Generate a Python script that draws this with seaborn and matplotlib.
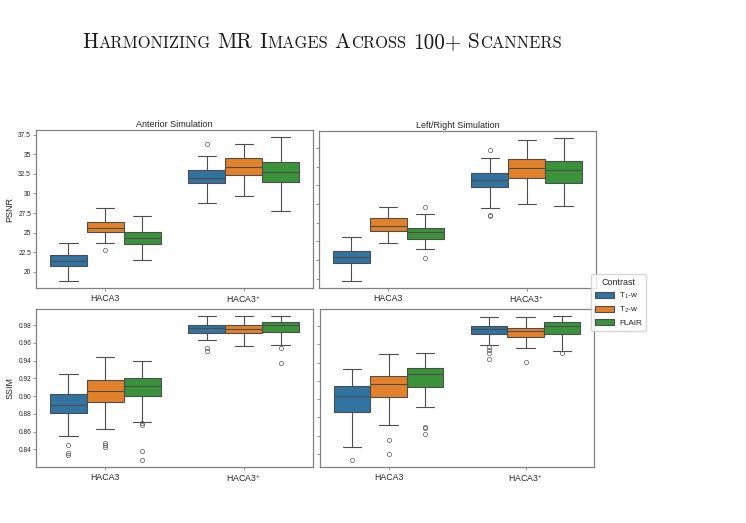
import numpy as np
import pandas as pd
import matplotlib
matplotlib.use("Agg")
import matplotlib.pyplot as plt
import seaborn as sns
from matplotlib.ticker import FuncFormatter

# categories
methods = ["HACA3", "HACA3$^{+}$"]
contrasts = ["T$_1$-w", "T$_2$-w", "FLAIR"]
contrast_colors = ["#3274a1", "#e1812c", "#3a923a"]

# box summaries, one tuple per (method, contrast):
# (lower whisker, Q1, median, Q3, upper whisker)
# order: HACA3 T1, T2, FLAIR, HACA3+ T1, T2, FLAIR
psnr_anterior = [(18.86, 20.73, 21.41, 22.13, 23.65),
                 (23.70, 25.06, 25.61, 26.35, 28.20),
                 (21.50, 23.58, 24.34, 25.02, 27.10),
                 (28.80, 31.30, 32.02, 33.00, 34.79),
                 (29.69, 32.32, 33.33, 34.48, 36.30),
                 (27.73, 31.43, 32.75, 34.02, 37.16)]
psnr_anterior_out = [[], [22.85], [], [36.30], [], []]

psnr_leftright = [(19.69, 22.03, 22.83, 23.73, 25.59),
                  (24.83, 26.43, 27.02, 28.09, 29.63),
                  (23.90, 25.33, 26.26, 26.83, 28.62),
                  (29.46, 32.22, 33.15, 34.17, 36.17),
                  (30.03, 33.55, 34.83, 35.99, 38.57),
                  (29.77, 32.83, 34.49, 35.82, 38.83)]
psnr_leftright_out = [[], [], [29.59, 22.79], [37.29, 28.46, 28.33], [], []]

ssim_anterior = [(0.8553, 0.8805, 0.8899, 0.9019, 0.9255),
                 (0.8625, 0.8929, 0.9060, 0.9187, 0.9440),
                 (0.8707, 0.9007, 0.9120, 0.9210, 0.9394),
                 (0.9635, 0.9710, 0.9770, 0.9803, 0.9901),
                 (0.9567, 0.9706, 0.9762, 0.9807, 0.9901),
                 (0.9575, 0.9721, 0.9800, 0.9830, 0.9901)]
ssim_anterior_out = [[0.8449, 0.8362, 0.8340], [0.8478, 0.8449, 0.8422],
                     [0.8696, 0.8680, 0.8385, 0.8283], [0.9540, 0.9510],
                     [], [0.9540, 0.9372]]

ssim_leftright = [(0.8474, 0.8857, 0.9038, 0.9148, 0.9330),
                  (0.8718, 0.9028, 0.9163, 0.9257, 0.9491),
                  (0.8911, 0.9130, 0.9272, 0.9344, 0.9502),
                  (0.9592, 0.9709, 0.9764, 0.9797, 0.9902),
                  (0.9563, 0.9676, 0.9745, 0.9782, 0.9902),
                  (0.9639, 0.9716, 0.9797, 0.9844, 0.9909)]
ssim_leftright_out = [[0.8336], [0.8554, 0.8400], [0.8696, 0.8682, 0.8620],
                      [0.9567, 0.9538, 0.9502, 0.9443], [0.9407], [0.9527, 0.9502]]

panel_titles = ["Anterior Simulation", "Left/Right Simulation"]


def rebuild(stats, fliers):
    # smallest sample whose quartiles / whiskers / fliers equal the read values
    lo, q1, med, q3, hi = stats
    low = sorted(f for f in fliers if f < lo)
    high = sorted(f for f in fliers if f > hi)
    m = max(len(low), len(high)) + 1
    return (low + [lo] + [q1] * (m - len(low)) + [med] * m + [q3] * m
            + [q3] * (m - len(high) - 1) + [hi] + high)


def to_frame(boxes, fliers):
    rows = []
    i = 0
    for meth in methods:
        for con in contrasts:
            for v in rebuild(boxes[i], fliers[i]):
                rows.append((meth, con, v))
            i += 1
    return pd.DataFrame(rows, columns=["Method", "Contrast", "value"])


sns.set_theme(style="ticks")
plt.rcParams["font.family"] = ["Liberation Sans", "DejaVu Sans"]
plt.rcParams["mathtext.default"] = "regular"

W, H = 746, 523
fig = plt.figure(figsize=(W / 100, H / 100), dpi=100)

# axes rectangles in pixels: left, top, right, bottom
rects = [[(36, 130, 313, 288), (319, 131, 596, 288)],
         [(36, 309, 313, 467), (320, 309, 594, 467)]]
data = [[(psnr_anterior, psnr_anterior_out), (psnr_leftright, psnr_leftright_out)],
        [(ssim_anterior, ssim_anterior_out), (ssim_leftright, ssim_leftright_out)]]
ylabels = ["PSNR", "SSIM"]

axes = []
for r in range(2):
    for c in range(2):
        x0, y0, x1, y1 = rects[r][c]
        ax = fig.add_axes([x0 / W, 1 - y1 / H, (x1 - x0) / W, (y1 - y0) / H])
        df = to_frame(*data[r][c])
        sns.boxplot(data=df, x="Method", y="value", hue="Contrast",
                    order=methods, hue_order=contrasts, ax=ax,
                    palette=contrast_colors, saturation=1, linecolor="0.3",
                    width=0.8, linewidth=0.8, legend=(r == 1 and c == 1),
                    flierprops=dict(marker="o", markerfacecolor="none",
                                    markeredgecolor="0.35", markeredgewidth=0.5,
                                    markersize=3))
        ax.set_xlabel("")
        for s in ax.spines.values():
            s.set_color("0.5")
            s.set_linewidth(0.9)
        ax.tick_params(axis="both", color="0.5", labelcolor="0.15", length=2, width=0.6, pad=1.5)
        ax.tick_params(axis="x", labelsize=6.3, pad=2)
        ax.tick_params(axis="y", labelsize=4.8)
        if r == 0:
            ax.yaxis.set_major_formatter(FuncFormatter(lambda v, p: f"{v:g}"))
            ax.set_title(panel_titles[c], fontsize=6.5, pad=2.5)
        if c == 0:
            ax.set_ylabel(ylabels[r], fontsize=6.5, labelpad=3)
        else:
            ax.set_ylabel("")
            ax.tick_params(axis="y", labelleft=False)
        axes.append(ax)

sns.move_legend(axes[3], "upper left", bbox_to_anchor=(587 / W, 1 - 270 / H),
                bbox_transform=fig.transFigure, title="Contrast",
                fontsize=5.9, title_fontsize=6.4, frameon=True,
                handlelength=2.3, handleheight=0.8, borderpad=0.5,
                labelspacing=0.45, handletextpad=0.6)

# page header in small caps
header = [("H", "ARMONIZING"), ("MR", ""), ("I", "MAGES"), ("A", "CROSS"),
          ("100+", ""), ("S", "CANNERS")]
renderer = fig.canvas.get_renderer()


def draw_header(size, x_left, y_base):
    arts = []
    x = x_left
    for big, small in header:
        for txt, sz in ((big, size), (small, size * 0.78)):
            if not txt:
                continue
            t = fig.text(x / W, y_base, txt, fontsize=sz, family="cmr10",
                         va="baseline", ha="left", color="0.1")
            x += t.get_window_extent(renderer).width
            arts.append(t)
        x += size * 100 / 72 * 0.333
    return arts, x - size * 100 / 72 * 0.333 - x_left


arts, width = draw_header(10, 82, 1 - 48 / H)
for a in arts:
    a.remove()
draw_header(10 * 480 / width, 82, 1 - 48 / H)

fig.savefig("out.png", dpi=100)
